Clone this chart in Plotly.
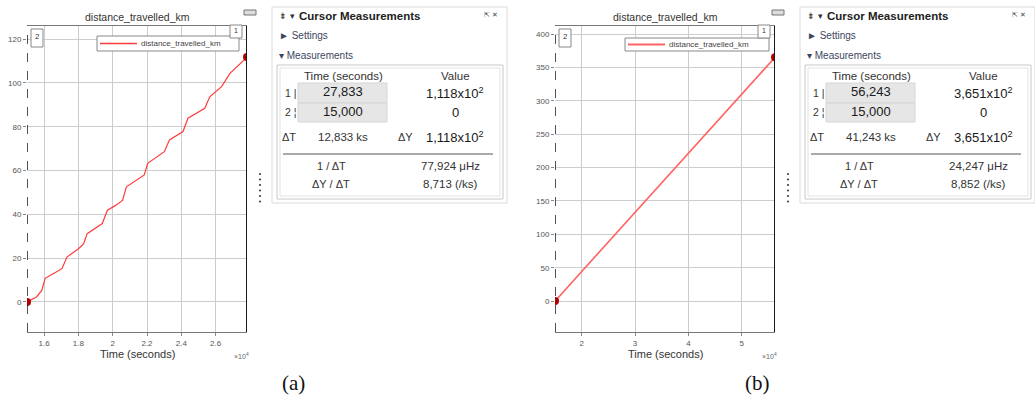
import plotly.graph_objects as go

W, H = 1035, 404

# distance_travelled_km, run (a)
time_a = [15000, 15570, 15860, 16060, 16550, 17040, 17330, 18020, 18300, 18510,
          19390, 19690, 20170, 20570, 20800, 21840, 22040, 23010, 23310, 24100,
          24390, 25370, 25660, 26350, 26840, 27833]
dist_a = [0, 2.4, 5.3, 10.8, 13.0, 15.2, 20.5, 24.4, 26.5, 31.2,
          35.8, 41.9, 44.1, 46.4, 52.6, 58.0, 63.3, 68.6, 74.0, 77.8,
          83.9, 88.4, 93.7, 98.3, 104.4, 111.82]

# distance_travelled_km, run (b)
time_b = [15000, 56243]
dist_b = [0, 365.1]

# cursor 1 / cursor 2 readings
cursor_time_a = [27833, 15000]
cursor_value_a = [111.82, 0]
cursor_time_b = [56243, 15000]
cursor_value_b = [365.1, 0]

# axis ticks
xtick_a = [16000, 18000, 20000, 22000, 24000, 26000]
xtext_a = ["1.6", "1.8", "2", "2.2", "2.4", "2.6"]
ytick_a = [0, 20, 40, 60, 80, 100, 120]
xtick_b = [20000, 30000, 40000, 50000]
xtext_b = ["2", "3", "4", "5"]
ytick_b = [0, 50, 100, 150, 200, 250, 300, 350, 400]

SERIES = "distance_travelled_km"
SANS = "Liberation Sans, Arial, sans-serif"


def px(x):
    return x / W


def py(y):
    return 1 - y / H


def comma(v, d=3):
    return f"{v:.{d}f}".replace(".", ",")


def sci(v):
    if v == 0:
        return "0"
    e = 0
    m = abs(v)
    while m >= 10:
        m /= 10
        e += 1
    return f"{comma(m)}x10<sup>{e}</sup>"


annotations = []
shapes = []


def text(x, y, s, size=10, color="#333", anchor="center", family=SANS):
    annotations.append(dict(
        x=px(x), y=py(y), xref="paper", yref="paper", text=s, showarrow=False,
        xanchor=anchor, yanchor="middle", font=dict(size=size, color=color, family=family)))


def rect(x0, y0, x1, y1, line="#ccc", fill="rgba(0,0,0,0)", width=1):
    shapes.append(dict(type="rect", xref="paper", yref="paper",
                       x0=px(x0), x1=px(x1), y0=py(y1), y1=py(y0),
                       line=dict(color=line, width=width), fillcolor=fill, layer="above"))


def hline(x0, x1, y, color="#aaa", width=1):
    shapes.append(dict(type="line", xref="paper", yref="paper",
                       x0=px(x0), x1=px(x1), y0=py(y), y1=py(y),
                       line=dict(color=color, width=width), layer="above"))


fig = go.Figure()

panels = [
    dict(dx=0, t=time_a, d=dist_a, ct=cursor_time_a, cv=cursor_value_a,
         xr=[15000, 27833], yr=[-13.7, 126], xt=xtick_a, xtt=xtext_a, yt=ytick_a,
         xa="x", ya="y", lc="#ff3b3b", lw=1.2, cap="(a)", capx=293,
         leg=(97, 36, 239, 51)),
    dict(dx=528, t=time_b, d=dist_b, ct=cursor_time_b, cv=cursor_value_b,
         xr=[15000, 56243], yr=[-46.3, 412], xt=xtick_b, xtt=xtext_b, yt=ytick_b,
         xa="x2", ya="y2", lc="#ff6464", lw=1.6, cap="(b)", capx=757,
         leg=(625, 38, 769, 51)),
]

layout_axes = {}
for i, p in enumerate(panels):
    dx = p["dx"]
    sfx = "" if i == 0 else "2"
    layout_axes["xaxis" + sfx] = dict(
        domain=[px(27 + dx), px(247 + dx)], range=p["xr"], anchor=p["ya"],
        tickvals=p["xt"], ticktext=p["xtt"], showgrid=True, gridcolor="#cdcdcd",
        zeroline=False, showline=True, linecolor="#777", mirror=True,
        ticks="outside", ticklen=3, tickcolor="#888",
        tickfont=dict(size=8, color="#555", family=SANS))
    layout_axes["yaxis" + sfx] = dict(
        domain=[py(332), py(26)], range=p["yr"], anchor=p["xa"],
        tickvals=p["yt"], showgrid=True, gridcolor="#cdcdcd",
        zeroline=False, showline=False, ticks="outside", ticklen=3, tickcolor="#888",
        tickfont=dict(size=8, color="#555", family=SANS))

    fig.add_trace(go.Scatter(
        x=p["t"], y=p["d"], mode="lines", name=SERIES, showlegend=False,
        line=dict(color=p["lc"], width=p["lw"]), xaxis=p["xa"], yaxis=p["ya"]))

    # cursor lines: 1 solid, 2 dashed
    for ct, dash, w in zip(p["ct"], ["solid", "dash"], [2, 1.5]):
        shapes.append(dict(type="line", xref=p["xa"], yref=p["ya"] + " domain",
                           x0=ct, x1=ct, y0=0, y1=1,
                           line=dict(color="#1a1a1a", width=w, dash=dash), layer="above"))

    fig.add_trace(go.Scatter(
        x=p["ct"], y=p["cv"], mode="markers", showlegend=False,
        marker=dict(color="#b00000", size=8), xaxis=p["xa"], yaxis=p["ya"]))

    # legend box
    lx0, ly0, lx1, ly1 = p["leg"]
    rect(lx0, ly0, lx1, ly1, line="#888", fill="white")
    hline(lx0 + 3, lx0 + 40, (ly0 + ly1) / 2, color=p["lc"], width=p["lw"] + 0.3)
    text(lx0 + 42, (ly0 + ly1) / 2, SERIES, size=8, color="#444", anchor="left")

    # cursor tags
    rect(31 + dx, 29, 43 + dx, 47, line="#888", fill="white")
    text(37 + dx, 37, "2", size=8, color="#333")
    rect(230 + dx, 25, 242 + dx, 38, line="#888", fill="white")
    text(236 + dx, 31, "1", size=7, color="#333")

    # chart title, axis label, exponent
    text(137 + dx, 17, SERIES, size=10.5, color="#333")
    text(137 + dx, 354, "Time (seconds)", size=11, color="#333")
    text(232 + dx, 356, "×10<sup>4</sup>", size=7, color="#666", anchor="left")
    rect(244 + dx, 10, 256 + dx, 15, line="#777", fill="#ddd")

    # grip dots
    for j in range(6):
        yy = 174 + j * 5.5
        shapes.append(dict(type="circle", xref="paper", yref="paper",
                           x0=px(259 + dx), x1=px(261 + dx),
                           y0=py(yy + 1), y1=py(yy - 1),
                           line=dict(width=0), fillcolor="#333"))

    # Cursor Measurements panel
    t1, t2 = p["ct"]
    v1, v2 = p["cv"]
    dT = t1 - t2
    dY = v1 - v2
    rect(272 + dx, 7, 507 + dx, 203, line="#dadada")
    text(277 + dx, 16, "⇟ ▾", size=9, color="#333", anchor="left")
    text(297 + dx, 16, "<b>Cursor Measurements</b>", size=11.5, color="#222", anchor="left")
    text(482 + dx, 14, "⇱ ✕", size=7, color="#444", anchor="left")
    text(277 + dx, 36, "► Settings", size=10, color="#3d4660", anchor="left")
    text(277 + dx, 55, "▾ Measurements", size=10, color="#3d4660", anchor="left")
    rect(277 + dx, 65, 503 + dx, 199, line="#c8c8c8")
    rect(280 + dx, 68, 500 + dx, 196, line="#e2e2e2")
    rect(298 + dx, 83, 387 + dx, 103, line="#d6d6d6", fill="#e6e6e6")
    rect(298 + dx, 103, 387 + dx, 122, line="#d6d6d6", fill="#e6e6e6")
    text(343 + dx, 76, "Time (seconds)", size=11.5, color="#333")
    text(455 + dx, 76, "Value", size=11.5, color="#333")
    text(283 + dx, 93, "1 |", size=10.5, color="#333", anchor="left")
    text(283 + dx, 112, "2 ¦", size=10.5, color="#333", anchor="left")
    text(343 + dx, 92, comma(t1 / 1000), size=13, color="#1a1a1a")
    text(343 + dx, 111, comma(t2 / 1000), size=13, color="#1a1a1a")
    text(455 + dx, 93, sci(v1), size=13, color="#1a1a1a")
    text(455 + dx, 112, sci(v2), size=13, color="#1a1a1a")
    text(289 + dx, 137, "ΔT", size=11, color="#333")
    text(343 + dx, 137, comma(dT / 1000) + " ks", size=11.5, color="#333")
    text(405 + dx, 137, "ΔY", size=11, color="#333")
    text(455 + dx, 137, sci(dY), size=13, color="#1a1a1a")
    hline(283 + dx, 493 + dx, 154, color="#aaa", width=2)
    text(331 + dx, 166, "1 / ΔT", size=11, color="#333")
    text(450 + dx, 166, comma(1e6 / dT) + " μHz", size=11.5, color="#333")
    text(331 + dx, 184, "ΔY / ΔT", size=11, color="#333")
    text(450 + dx, 184, comma(dY / (dT / 1000)) + " (/ks)", size=11.5, color="#333")

    # caption
    text(p["capx"], 383, p["cap"], size=21, color="#111",
         family="Liberation Serif, Times New Roman, serif")

fig.update_layout(
    width=W, height=H, margin=dict(l=0, r=0, t=0, b=0),
    paper_bgcolor="white", plot_bgcolor="white", showlegend=False,
    annotations=annotations, shapes=shapes,
    **layout_axes,
)

fig.write_html("out.html")
